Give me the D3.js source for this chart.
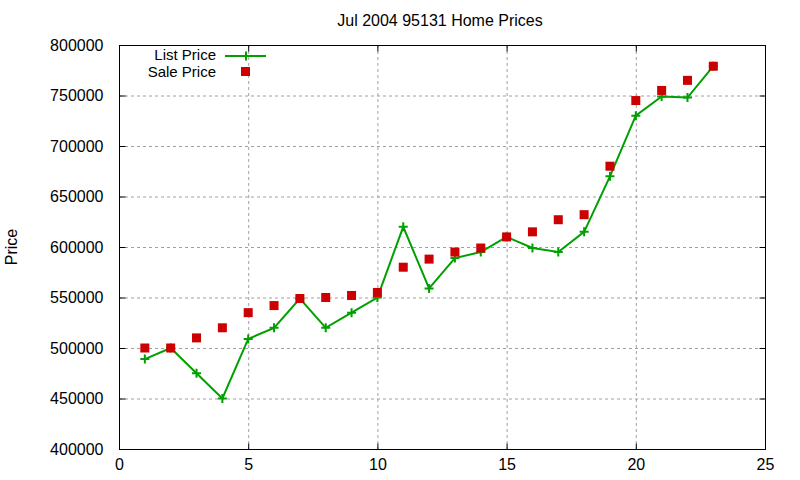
<!DOCTYPE html>
<html>
<head>
<meta charset="utf-8">
<script src="https://cdn.jsdelivr.net/npm/d3@7"></script>
<style>
  body { margin: 0; background: #fff; }
  text { font-family: "Liberation Sans", Arial, sans-serif; fill: #000; }
</style>
</head>
<body>
<div id="chart"></div>
<script>
// data
const months = [1,2,3,4,5,6,7,8,9,10,11,12,13,14,15,16,17,18,19,20,21,22,23];
const listPrice = [489000,500000,475000,450000,509000,520000,549000,520000,535000,550000,620000,559000,
                   589000,595000,610000,599000,595000,615000,670000,730000,749000,748000,779000];
const salePrice = [500000,500000,510000,520000,535000,542000,549000,550000,552000,555000,580000,588000,
                   595000,599000,610000,615000,627000,632000,680000,745000,755000,765000,779000];
const xTicks = [0,5,10,15,20,25];
const yTicks = [400000,450000,500000,550000,600000,650000,700000,750000,800000];

const width = 800, height = 480;
const pLeft = 119, pRight = 765, pTop = 45, pBottom = 449;

const svg = d3.select("#chart").append("svg")
    .attr("width", width)
    .attr("height", height);

const x = d3.scaleLinear().domain([0, 25]).range([pLeft, pRight]);
const y = d3.scaleLinear().domain([400000, 800000]).range([pBottom, pTop]);

//---------------------------GRID------------------------------//
const grid = svg.append("g")
    .attr("stroke", "#a0a0a0")
    .attr("stroke-width", 1)
    .attr("stroke-dasharray", "3,3");
grid.selectAll(".gx").data(xTicks.slice(1, -1)).enter().append("line")
    .attr("x1", d => x(d) + 0.5).attr("x2", d => x(d) + 0.5)
    .attr("y1", pTop).attr("y2", pBottom);
grid.selectAll(".gy").data(yTicks.slice(1, -1)).enter().append("line")
    .attr("x1", pLeft).attr("x2", pRight)
    .attr("y1", d => y(d) + 0.5).attr("y2", d => y(d) + 0.5);

//---------------------------AXES------------------------------//
const xaxis = d3.axisBottom(x).tickValues(xTicks).tickSizeInner(-6).tickSizeOuter(0).tickPadding(9);
const yaxis = d3.axisLeft(y).tickValues(yTicks).tickSizeInner(-6).tickSizeOuter(0).tickPadding(16)
    .tickFormat(d3.format("d"));
const xtop = d3.axisTop(x).tickValues(xTicks).tickSizeInner(-6).tickSizeOuter(0).tickFormat("");
const yright = d3.axisRight(y).tickValues(yTicks).tickSizeInner(-6).tickSizeOuter(0).tickFormat("");

function style(g) {
    g.select(".domain").remove();
    g.selectAll("line").attr("stroke", "#000");
    g.selectAll("text").style("font-size", "16px").attr("fill", "#000");
}
svg.append("g").attr("transform", "translate(0," + (pBottom + 0.5) + ")").call(xaxis).call(style);
svg.append("g").attr("transform", "translate(" + (pLeft + 0.5) + ",0)").call(yaxis).call(style);
svg.append("g").attr("transform", "translate(0," + (pTop + 0.5) + ")").call(xtop).call(style);
svg.append("g").attr("transform", "translate(" + (pRight + 0.5) + ",0)").call(yright).call(style);

svg.append("rect")
    .attr("x", pLeft + 0.5).attr("y", pTop + 0.5)
    .attr("width", pRight - pLeft).attr("height", pBottom - pTop)
    .attr("fill", "none").attr("stroke", "#000").attr("stroke-width", 1);

//---------------------------TEXT------------------------------//
svg.append("text")
    .attr("x", (pLeft + pRight) / 2 - 2).attr("y", 26)
    .attr("text-anchor", "middle")
    .style("font-size", "16px")
    .text("Jul 2004 95131 Home Prices");

svg.append("text")
    .attr("transform", "translate(17," + ((pTop + pBottom) / 2) + ") rotate(-90)")
    .attr("text-anchor", "middle")
    .style("font-size", "16px")
    .text("Price");

//---------------------------LINES-----------------------------//
const green = "#00a000", red = "#cc0000";
const listData = months.map((m, i) => ({ m: m, v: listPrice[i] }));
const saleData = months.map((m, i) => ({ m: m, v: salePrice[i] }));

svg.append("path")
    .datum(listData)
    .attr("fill", "none")
    .attr("stroke", green)
    .attr("stroke-width", 2)
    .attr("d", d3.line().x(d => x(d.m)).y(d => y(d.v)));

svg.selectAll(".lp").data(listData).enter().append("path")
    .attr("d", "M-4.5,0H4.5M0,-4.5V4.5")
    .attr("transform", d => "translate(" + x(d.m) + "," + y(d.v) + ")")
    .attr("stroke", green).attr("stroke-width", 2).attr("fill", "none");

svg.selectAll(".sp").data(saleData).enter().append("rect")
    .attr("x", d => x(d.m) - 4.5).attr("y", d => y(d.v) - 4.5)
    .attr("width", 9).attr("height", 9)
    .attr("fill", red);

//--------------------------LEGEND-----------------------------//
const legend = svg.append("g");
legend.append("text").attr("x", 216).attr("y", 60).attr("text-anchor", "end")
    .style("font-size", "15px").text("List Price");
legend.append("line").attr("x1", 225).attr("x2", 266).attr("y1", 56).attr("y2", 56)
    .attr("stroke", green).attr("stroke-width", 2);
legend.append("path").attr("d", "M-4.5,0H4.5M0,-4.5V4.5")
    .attr("transform", "translate(246,56)")
    .attr("stroke", green).attr("stroke-width", 2);
legend.append("text").attr("x", 216).attr("y", 77).attr("text-anchor", "end")
    .style("font-size", "15px").text("Sale Price");
legend.append("rect").attr("x", 241).attr("y", 67).attr("width", 9).attr("height", 9)
    .attr("fill", red);
</script>
</body>
</html>
